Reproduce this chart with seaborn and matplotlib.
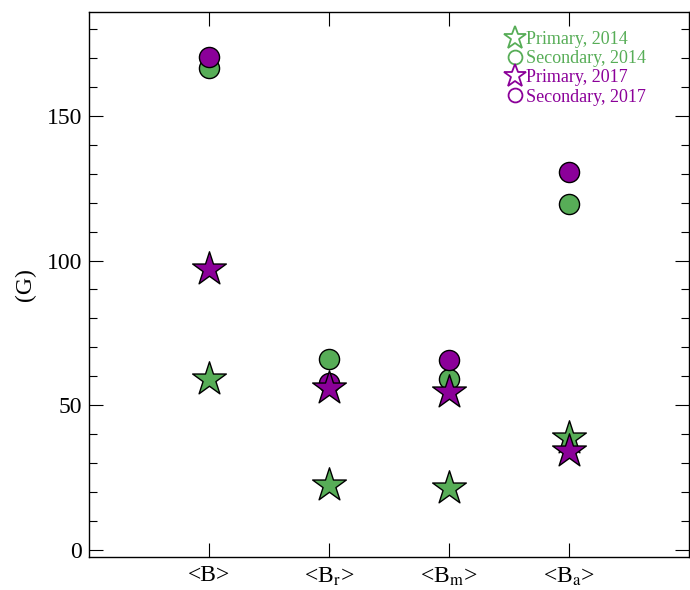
import matplotlib
matplotlib.use("Agg")
import matplotlib.pyplot as plt
from matplotlib.lines import Line2D
import numpy as np
import pandas as pd
import seaborn as sns

# field components
labels = ['<B>', r'<B$_\mathrm{r}$>', r'<B$_\mathrm{m}$>', r'<B$_\mathrm{a}$>']
prim_2014 = [59, 22.5, 21.5, 38.5]
sec_2014 = [166.5, 66, 59, 119.5]
prim_2017 = [97, 56, 54.5, 34]
sec_2017 = [170.5, 57.5, 65.5, 130.5]

green = '#57ad57'
purple = '#8b0099'

sns.set_style('ticks', {'axes.edgecolor': 'black', 'xtick.color': 'black',
                        'ytick.color': 'black', 'text.color': 'black',
                        'axes.labelcolor': 'black'})
plt.rcParams['font.family'] = ['Liberation Serif', 'DejaVu Serif']
plt.rcParams['mathtext.fontset'] = 'stix'

x = np.arange(len(labels))
fig, ax = plt.subplots(figsize=(6.9, 5.9), dpi=100)

sns.scatterplot(x=x, y=sec_2014, ax=ax, marker='o', s=210, color=green, edgecolor='black', linewidth=1, zorder=3)
sns.scatterplot(x=x, y=sec_2017, ax=ax, marker='o', s=210, color=purple, edgecolor='black', linewidth=1, zorder=3)
sns.scatterplot(x=x, y=prim_2014, ax=ax, marker='*', s=650, color=green, edgecolor='black', linewidth=1, zorder=4)
sns.scatterplot(x=x, y=prim_2017, ax=ax, marker='*', s=650, color=purple, edgecolor='black', linewidth=1, zorder=4)

ax.set_xlim(-1, 4)
ax.set_ylim(-2.5, 186)
ax.set_xticks(x)
ax.set_xticklabels(labels, fontsize=17)
ax.set_yticks([0, 50, 100, 150])
ax.set_yticks(np.arange(10, 190, 10), minor=True)
ax.tick_params(axis='y', labelsize=17, pad=5)
ax.tick_params(axis='x', pad=6)
ax.tick_params(direction='in', top=True, right=True, which='both', length=10, width=0.8)
ax.tick_params(which='minor', length=6)
ax.set_ylabel('(G)', fontsize=17, labelpad=8)
for sp in ax.spines.values():
    sp.set_linewidth(1.0)

handles = [
    Line2D([], [], marker='*', ls='none', ms=17, mfc='none', mec=green, mew=1.3),
    Line2D([], [], marker='o', ls='none', ms=10, mfc='none', mec=green, mew=1.3),
    Line2D([], [], marker='*', ls='none', ms=17, mfc='none', mec=purple, mew=1.3),
    Line2D([], [], marker='o', ls='none', ms=10, mfc='none', mec=purple, mew=1.3),
]
names = ['Primary, 2014', 'Secondary, 2014', 'Primary, 2017', 'Secondary, 2017']
leg = ax.legend(handles, names, loc='upper left', frameon=False, fontsize=13,
                handletextpad=0.0, labelspacing=0.12, handlelength=1.2,
                borderaxespad=0.0, bbox_to_anchor=(0.68, 0.978))
for t, c in zip(leg.get_texts(), [green, green, purple, purple]):
    t.set_color(c)

plt.subplots_adjust(left=0.129, right=0.9985, top=0.98, bottom=0.056)
fig.savefig('out.png', dpi=100)
